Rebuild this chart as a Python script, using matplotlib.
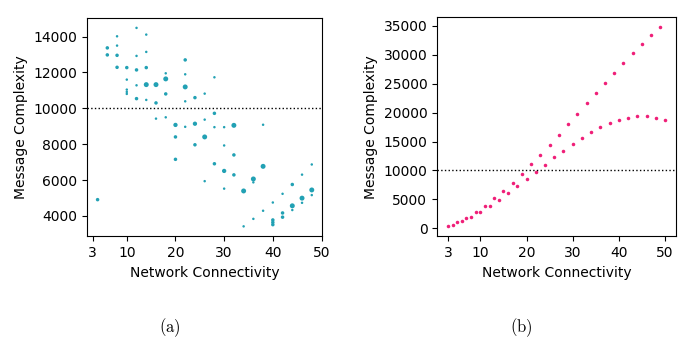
import matplotlib.pyplot as plt

# (a) message complexity samples: connectivity, messages, how many runs landed there
conn_a = [4,
          6, 6,
          8, 8, 8, 8,
          10, 10, 10, 10, 10,
          12, 12, 12, 12, 12,
          14, 14, 14, 14, 14,
          16, 16, 16,
          18, 18, 18, 18,
          20, 20, 20,
          22, 22, 22, 22, 22,
          24, 24, 24,
          26, 26, 26, 26,
          28, 28, 28, 28,
          30, 30, 30, 30,
          32, 32, 32,
          34, 34,
          36, 36, 36,
          38, 38, 38,
          40, 40, 40, 40,
          42, 42, 42,
          44, 44, 44,
          46, 46, 46,
          48, 48, 48]
msgs_a = [4909,
          13370, 12979,
          14016, 13497, 12956, 12287,
          12271, 11601, 11043, 10915, 10804,
          14485, 12923, 12142, 11283, 10541,
          14111, 13146, 12271, 11322, 10469,
          11322, 10302, 9426,
          11953, 11641, 10804, 9499,
          9075, 8406, 7157,
          12700, 11897, 11194, 10391, 8970,
          10597, 9142, 7968,
          10820, 9370, 8406, 5940,
          11730, 9722, 8950, 6910,
          8950, 7930, 6510, 5523,
          9052, 7402, 6290,
          5394, 3420,
          6063, 5874, 3838,
          9085, 6766, 4290,
          4750, 3777, 3643, 3515,
          5235, 4167, 3933,
          5754, 4566, 4330,
          6303, 4993, 4733,
          6870, 5450, 5163]
count_a = [2,
           2, 2,
           1, 1, 2, 2,
           2, 1, 1, 1, 1,
           1, 1, 2, 1, 2,
           1, 1, 2, 4, 1,
           4, 2, 1,
           1, 4, 2, 1,
           3, 2, 2,
           2, 1, 4, 1, 1,
           2, 3, 2,
           1, 1, 4, 1,
           1, 2, 1, 2,
           1, 1, 3, 1,
           4, 2, 2,
           4, 1,
           4, 1, 1,
           1, 4, 1,
           1, 2, 2, 2,
           1, 2, 2,
           2, 4, 1,
           1, 4, 1,
           1, 4, 1]

# (b) two interleaved series
conn_odd = [3, 5, 7, 9, 11, 13, 15, 17, 19, 21, 23, 25,
            27, 29, 31, 33, 35, 37, 39, 41, 43, 45, 47, 49]
msgs_odd = [350, 1040, 1840, 2770, 3920, 5200, 6520, 7900, 9460, 11090, 12700, 14440,
            16220, 18000, 19810, 21590, 23400, 25180, 26910, 28650, 30260, 31890, 33380, 34760]
conn_even = [4, 6, 8, 10, 12, 14, 16, 18, 20, 22, 24, 26,
             28, 30, 32, 34, 36, 38, 40, 42, 44, 46, 48, 50]
msgs_even = [570, 1210, 2010, 2880, 3920, 4960, 6120, 7280, 8540, 9760, 11020, 12300,
             13450, 14660, 15650, 16570, 17470, 18130, 18740, 19120, 19340, 19340, 19140, 18740]

threshold = 10000
xticks = [3, 10, 20, 30, 40, 50]

teal = '#22a1b4'
pink = '#ef1f78'

fig = plt.figure(figsize=(6.95, 3.39), dpi=100)
ax1 = fig.add_axes([0.125, 0.303, 0.339, 0.644])
ax2 = fig.add_axes([0.629, 0.303, 0.3435, 0.646])

ax1.scatter(conn_a, msgs_a, s=[3.2 * c for c in count_a], color=teal, linewidths=0)
ax1.axhline(threshold, color='k', linestyle=':', linewidth=1)

ax2.scatter(conn_odd, msgs_odd, s=6.5, color=pink, linewidths=0)
ax2.scatter(conn_even, msgs_even, s=6.5, color=pink, linewidths=0)
ax2.axhline(threshold, color='k', linestyle=':', linewidth=1)

for ax in (ax1, ax2):
    ax.set_xticks(xticks)
    ax.set_xlabel('Network Connectivity', fontsize=10)
    ax.set_ylabel('Message Complexity', fontsize=10)
    ax.tick_params(labelsize=10)

ax1.set_yticks([4000, 6000, 8000, 10000, 12000, 14000])
ax2.set_yticks(range(0, 35001, 5000))

# subfigure captions
fig.text(0.245, 0.02, r'$\mathrm{(a)}$', ha='center', fontsize=12, math_fontfamily='cm')
fig.text(0.750, 0.02, r'$\mathrm{(b)}$', ha='center', fontsize=12, math_fontfamily='cm')

plt.savefig('out.png', dpi=100)
